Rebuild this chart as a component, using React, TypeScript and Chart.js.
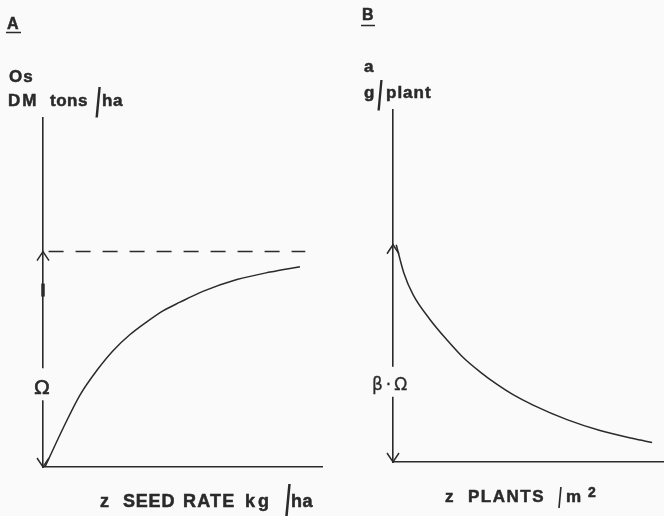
import React, { useEffect, useRef } from "react";
import { Chart, registerables } from "chart.js";

Chart.register(...registerables);

// ---- Panel A: dry-matter yield vs seed rate (relative units, asymptote = 1) ----
const seedRate = [0.7, 7.2, 13.3, 19.4, 25.1, 31.2, 37.3, 43, 49.1, 57.3, 69.5, 81.4, 92.1];
const dmYield = [0, 0.18, 0.335, 0.45, 0.54, 0.615, 0.675, 0.725, 0.765, 0.815, 0.87, 0.905, 0.93];
const asymptoteX = [2, 94];
const asymptoteY = [1, 1];

// ---- Panel B: yield per plant vs plant density (relative units, max = 1) ----
const plants = [1.2, 4.0, 7.4, 13.7, 19.9, 25.8, 32.1, 38.4, 44.3, 51.7, 64.2, 76.4, 88.6, 95.6];
const perPlant = [1.0, 0.87, 0.77, 0.655, 0.562, 0.482, 0.415, 0.357, 0.31, 0.262, 0.195, 0.145, 0.108, 0.09];

const yMax = 1.62;
const xMax = 100;

const INK = "#2a2a2a";
const BG = "#fafafa";
const BOLD = "'Liberation Sans', Arial, sans-serif";

function txt(ctx: CanvasRenderingContext2D, s: string, x: number, y: number, size: number, spacing = 0, weight = "bold", family = BOLD, align: CanvasTextAlign = "left", stroke = 0.5) {
  ctx.save();
  ctx.font = `${weight} ${size}px ${family}`;
  ctx.fillStyle = INK;
  ctx.strokeStyle = INK;
  ctx.lineWidth = stroke;
  ctx.textBaseline = "alphabetic";
  ctx.textAlign = align;
  (ctx as any).letterSpacing = spacing + "px";
  ctx.fillText(s, x, y);
  if (stroke > 0) ctx.strokeText(s, x, y);
  ctx.restore();
}

function slash(ctx: CanvasRenderingContext2D, cx: number, top: number, bottom: number) {
  const size = (bottom - top) / 0.75;
  ctx.save();
  ctx.font = `bold ${size}px ${BOLD}`;
  ctx.fillStyle = INK;
  ctx.textAlign = "center";
  ctx.textBaseline = "alphabetic";
  ctx.translate(cx, bottom);
  ctx.scale(0.5, 1);
  ctx.fillText("/", 0, 0);
  ctx.restore();
}

function arrowHead(ctx: CanvasRenderingContext2D, x: number, y: number, dir: number) {
  ctx.beginPath();
  ctx.moveTo(x - 6, y - dir * 9);
  ctx.lineTo(x, y);
  ctx.lineTo(x + 6, y - dir * 9);
  ctx.stroke();
}

const panelAPlugin = {
  id: "panelA",
  afterDraw(chart: any) {
    const { ctx, scales } = chart;
    const x = scales.x, y = scales.y;
    const ax = x.getPixelForValue(0);
    const yTop = y.getPixelForValue(1);
    const yBot = y.getPixelForValue(0);
    ctx.save();
    ctx.strokeStyle = INK;
    ctx.lineWidth = 1.5;
    arrowHead(ctx, ax, yTop, -1);
    arrowHead(ctx, ax, yBot, 1);
    // pen mark on axis
    ctx.lineWidth = 3.5;
    ctx.beginPath();
    ctx.moveTo(ax, yTop + 32);
    ctx.lineTo(ax, yTop + 45);
    ctx.stroke();
    // gap + label
    const ly = yBot - (yBot - yTop) * 0.37;
    ctx.fillStyle = BG;
    ctx.fillRect(ax - 4, ly - 19, 8, 32);
    txt(ctx, "Ω", ax - 1, ly + 7, 20, 0, "normal", "'DejaVu Sans', sans-serif", "center", 0.6);

    // panel letter
    txt(ctx, "A", 7, 29, 16);
    ctx.lineWidth = 1.5;
    ctx.beginPath();
    ctx.moveTo(6, 32.5);
    ctx.lineTo(21, 32.5);
    ctx.stroke();

    // y label
    txt(ctx, "Os", 9, 82, 17, 1);
    txt(ctx, "DM", 8, 106, 17, 2);
    txt(ctx, "tons", 50, 106, 17, 0.5);
    slash(ctx, 98, 86, 117);
    txt(ctx, "ha", 102, 106, 17, 0.5);

    // x label
    txt(ctx, "z", 100, 507, 18);
    txt(ctx, "SEED", 123, 507, 18, 0.8);
    txt(ctx, "RATE", 183, 507, 18, 1.2);
    txt(ctx, "kg", 245, 507, 18, 3);
    slash(ctx, 288, 483, 515);
    txt(ctx, "ha", 291, 507, 18, 0.5);
    ctx.restore();
  },
};

const OFF = 332;
const panelBPlugin = {
  id: "panelB",
  afterDraw(chart: any) {
    const { ctx, scales } = chart;
    const x = scales.x, y = scales.y;
    const ax = x.getPixelForValue(0);
    const yTop = y.getPixelForValue(1);
    const yBot = y.getPixelForValue(0);
    ctx.save();
    ctx.strokeStyle = INK;
    ctx.lineWidth = 1.5;
    arrowHead(ctx, ax, yTop, -1);
    arrowHead(ctx, ax, yBot, 1);
    const ly = yBot - (yBot - yTop) * 0.36;
    ctx.fillStyle = BG;
    ctx.fillRect(ax - 4, ly - 17, 8, 30);
    txt(ctx, "β·Ω", ax - 2, ly + 6, 17, 3, "normal", "'DejaVu Sans', sans-serif", "center", 0.3);

    txt(ctx, "B", 362 - OFF, 20, 16);
    ctx.lineWidth = 1.5;
    ctx.beginPath();
    ctx.moveTo(361 - OFF, 25.5);
    ctx.lineTo(375 - OFF, 25.5);
    ctx.stroke();

    txt(ctx, "a", 364 - OFF, 72, 17);
    txt(ctx, "g", 364 - OFF, 98, 17);
    slash(ctx, 380 - OFF, 80, 110);
    txt(ctx, "plant", 386 - OFF, 98, 17, 1);

    txt(ctx, "z", 445 - OFF, 502, 17);
    txt(ctx, "PLANTS", 468 - OFF, 502, 17, 1.5);
    slash(ctx, 560 - OFF, 486, 507);
    txt(ctx, "m", 566 - OFF, 502, 17);
    txt(ctx, "2", 588 - OFF, 497, 14);
    ctx.restore();
  },
};

function axisScales() {
  const common = {
    type: "linear" as const,
    min: 0,
    grid: { display: false, drawTicks: false },
    ticks: { display: false },
    border: { display: true, color: INK, width: 1.6 },
  };
  return {
    x: { ...common, max: xMax },
    y: { ...common, max: yMax },
  };
}

function makeA(canvas: HTMLCanvasElement) {
  return new Chart(canvas, {
    type: "line",
    data: {
      datasets: [
        {
          data: seedRate.map((v, i) => ({ x: v, y: dmYield[i] })),
          borderColor: INK,
          borderWidth: 1.5,
          pointRadius: 0,
          cubicInterpolationMode: "monotone",
          clip: false,
        } as any,
        {
          data: asymptoteX.map((v, i) => ({ x: v, y: asymptoteY[i] })),
          borderColor: INK,
          borderWidth: 1.6,
          borderDash: [15, 12],
          pointRadius: 0,
          clip: false,
        } as any,
      ],
    },
    options: {
      responsive: false,
      animation: false,
      events: [],
      layout: { padding: { left: 43, right: 10, top: 118, bottom: 49 } },
      plugins: { legend: { display: false }, tooltip: { enabled: false } },
      scales: axisScales() as any,
    },
    plugins: [panelAPlugin],
  });
}

function makeB(canvas: HTMLCanvasElement) {
  return new Chart(canvas, {
    type: "line",
    data: {
      datasets: [
        {
          data: plants.map((v, i) => ({ x: v, y: perPlant[i] })),
          borderColor: INK,
          borderWidth: 1.5,
          pointRadius: 0,
          cubicInterpolationMode: "monotone",
          clip: false,
        } as any,
      ],
    },
    options: {
      responsive: false,
      animation: false,
      events: [],
      layout: { padding: { left: 61, right: 0, top: 110, bottom: 54 } },
      plugins: { legend: { display: false }, tooltip: { enabled: false } },
      scales: axisScales() as any,
    },
    plugins: [panelBPlugin],
  });
}

export default function App() {
  const refA = useRef<HTMLCanvasElement>(null);
  const refB = useRef<HTMLCanvasElement>(null);
  useEffect(() => {
    const a = makeA(refA.current!);
    const b = makeB(refB.current!);
    return () => {
      a.destroy();
      b.destroy();
    };
  }, []);
  return (
    <div style={{ position: "fixed", left: 0, top: 0, width: 664, height: 516, background: BG, overflow: "hidden" }}>
      <canvas ref={refA} width={332} height={516} style={{ position: "absolute", left: 0, top: 0 }} />
      <canvas ref={refB} width={332} height={516} style={{ position: "absolute", left: 332, top: 0 }} />
    </div>
  );
}
